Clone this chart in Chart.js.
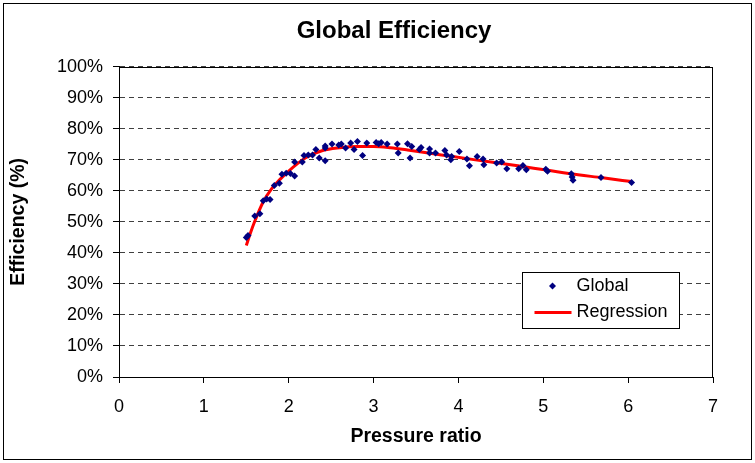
<!DOCTYPE html>
<html>
<head>
<meta charset="utf-8">
<script src="https://cdn.jsdelivr.net/npm/chart.js@4/dist/chart.umd.min.js"></script>
<style>
  html, body { margin: 0; padding: 0; background: #fff; }
  #wrap { width: 755px; height: 463px; }
</style>
</head>
<body>
<div id="wrap"><canvas id="chartEfficiency" width="755" height="463"></canvas></div>
<script>
// measured points: pressure ratio / efficiency (%)
const pressureRatio = [
  1.50, 1.52, 1.60, 1.66, 1.70, 1.74, 1.78, 1.83, 1.89, 1.92,
  1.97, 2.02, 2.07, 2.07, 2.16, 2.18, 2.23, 2.28, 2.32, 2.36,
  2.43, 2.43, 2.43, 2.51, 2.59, 2.62, 2.67, 2.73, 2.77, 2.81,
  2.87, 2.92, 3.03, 3.06, 3.09, 3.16, 3.28, 3.29, 3.40, 3.43,
  3.45, 3.54, 3.56, 3.66, 3.66, 3.73, 3.84, 3.86, 3.92, 3.91,
  4.01, 4.10, 4.13, 4.22, 4.29, 4.30, 4.45, 4.51, 4.57, 4.71,
  4.76, 4.80, 5.03, 5.05, 5.33, 5.34, 5.35, 5.68, 6.04
];
const efficiency = [
  45.0, 45.6, 51.9, 52.6, 56.8, 57.4, 57.2, 61.7, 62.5, 65.4,
  65.7, 65.6, 64.8, 69.3, 69.3, 71.4, 71.6, 71.6, 73.3, 70.6,
  74.5, 73.8, 69.7, 75.1, 74.8, 75.1, 73.8, 75.4, 73.3, 75.9,
  71.4, 75.4, 75.6, 75.2, 75.6, 75.1, 75.1, 72.2, 75.2, 70.6,
  74.3, 73.3, 74.0, 73.5, 72.2, 72.2, 73.0, 71.6, 71.1, 70.0,
  72.7, 70.3, 68.1, 71.1, 70.3, 68.4, 69.0, 69.3, 67.1, 67.1,
  68.2, 66.8, 67.0, 66.3, 65.5, 64.5, 63.4, 64.3, 62.7
];

// regression curve
const regX = [1.50, 1.55, 1.60, 1.70, 1.80, 1.90, 2.00, 2.10, 2.20, 2.40, 2.60, 2.80, 3.00, 3.20, 3.40, 3.80, 4.20, 4.70, 5.30, 5.70, 6.04];
const regY = [42.4, 46.5, 50.2, 56.5, 60.7, 63.8, 66.4, 68.7, 70.7, 73.0, 73.9, 74.3, 74.3, 73.9, 73.2, 71.6, 70.0, 68.1, 65.6, 64.2, 63.0];

const xTicks = [0, 1, 2, 3, 4, 5, 6, 7];
const yTicks = [0, 10, 20, 30, 40, 50, 60, 70, 80, 90, 100];

const FONT = "Arial, 'Liberation Sans', sans-serif";
Chart.defaults.font.family = FONT;
Chart.defaults.color = "#000";

// white background + outer frame
const frame = {
    id: "frame",
    beforeDraw(chart) {
        const ctx = chart.ctx;
        ctx.save();
        ctx.fillStyle = "#fff";
        ctx.fillRect(0, 0, chart.width, chart.height);
        ctx.strokeStyle = "#000";
        ctx.lineWidth = 1;
        ctx.strokeRect(3.5, 3.5, chart.width - 7, chart.height - 7);
        ctx.restore();
    },
    afterLayout(chart) {
        // centre the title over the plot area + axis labels
        const t = chart.titleBlock;
        if (t) {
            t.left = chart.chartArea.left - 44;
            t.right = chart.chartArea.right;
        }
    },
    beforeDatasetsDraw(chart) {
        const {ctx, chartArea: a} = chart;
        ctx.save();
        ctx.strokeStyle = "#000";
        ctx.lineWidth = 1;
        ctx.strokeRect(Math.round(a.left) + 0.5, Math.round(a.top) + 0.5,
            Math.round(a.right - a.left) - 1, Math.round(a.bottom - a.top));
        ctx.restore();
    }
};

// legend box inside the plot
const boxLegend = {
    id: "boxLegend",
    afterDraw(chart) {
        const ctx = chart.ctx;
        const a = chart.chartArea;
        const x = Math.round(a.right) - 190.5, y = Math.round(a.top) + 205.5;
        const w = 157, h = 56;
        ctx.save();
        ctx.fillStyle = "#fff";
        ctx.fillRect(x, y, w, h);
        ctx.strokeStyle = "#000";
        ctx.lineWidth = 1;
        ctx.strokeRect(x, y, w, h);

        ctx.font = "18px " + FONT;
        ctx.fillStyle = "#000";
        ctx.textBaseline = "middle";
        const ds = chart.data.datasets;

        // Global
        const y1 = y + 13.5;
        const cx = x + 30;
        ctx.fillStyle = ds[0].backgroundColor;
        ctx.beginPath();
        ctx.moveTo(cx, y1 - 3.5);
        ctx.lineTo(cx + 3.5, y1);
        ctx.lineTo(cx, y1 + 3.5);
        ctx.lineTo(cx - 3.5, y1);
        ctx.closePath();
        ctx.fill();
        ctx.fillStyle = "#000";
        ctx.fillText(ds[0].label, x + 54, y1);

        // Regression
        const y2 = y + 40;
        ctx.strokeStyle = ds[1].borderColor;
        ctx.lineWidth = 3;
        ctx.beginPath();
        ctx.moveTo(x + 12, y2);
        ctx.lineTo(x + 49, y2);
        ctx.stroke();
        ctx.fillText(ds[1].label, x + 54, y2);
        ctx.restore();
    }
};

const ctx = document.getElementById("chartEfficiency").getContext("2d");
new Chart(ctx, {
    type: "scatter",
    data: {
        datasets: [
            {
                label: "Global",
                data: pressureRatio.map((v, i) => ({ x: v, y: efficiency[i] })),
                pointStyle: "rectRot",
                pointRadius: 3.5,
                pointHoverRadius: 3.5,
                backgroundColor: "#000080",
                borderColor: "#000080",
                borderWidth: 0,
                showLine: false
            },
            {
                label: "Regression",
                data: regX.map((v, i) => ({ x: v, y: regY[i] })),
                showLine: true,
                borderColor: "#ff0000",
                backgroundColor: "#ff0000",
                borderWidth: 3,
                pointRadius: 0,
                cubicInterpolationMode: "monotone"
            }
        ]
    },
    options: {
        responsive: false,
        animation: false,
        events: [],
        layout: { padding: { top: 4, left: 4, right: 42, bottom: 4 } },
        plugins: {
            legend: { display: false },
            tooltip: { enabled: false },
            title: {
                display: true,
                text: "Global Efficiency",
                color: "#000",
                font: { size: 24, weight: "bold", family: FONT },
                padding: { top: 13, bottom: 21 }
            }
        },
        scales: {
            x: {
                type: "linear",
                min: 0,
                max: 7,
                afterBuildTicks: (scale) => { scale.ticks = xTicks.map(v => ({ value: v })); },
                afterFit: (scale) => { scale.height = 82; },
                ticks: { font: { size: 18 }, padding: 13, color: "#000" },
                grid: { drawOnChartArea: false, drawTicks: true, tickLength: 6, color: "#000", tickBorderDash: [] },
                border: { color: "#000" },
                title: {
                    display: true,
                    text: "Pressure ratio",
                    font: { size: 19.5, weight: "bold" },
                    padding: { top: 4, bottom: 11 }
                }
            },
            y: {
                min: 0,
                max: 100,
                afterBuildTicks: (scale) => { scale.ticks = yTicks.map(v => ({ value: v })); },
                afterFit: (scale) => { scale.width = 115; },
                ticks: {
                    font: { size: 18 },
                    padding: 10,
                    color: "#000",
                    callback: (val) => val + "%"
                },
                grid: { color: "#404040", lineWidth: 1, tickLength: 6, tickColor: "#000", tickBorderDash: [] },
                border: { color: "#000", dash: [5, 4] },
                title: {
                    display: true,
                    text: "Efficiency (%)",
                    font: { size: 19.5, weight: "bold" },
                    padding: { top: 3, bottom: 0 }
                }
            }
        }
    },
    plugins: [frame, boxLegend]
});
</script>
</body>
</html>
